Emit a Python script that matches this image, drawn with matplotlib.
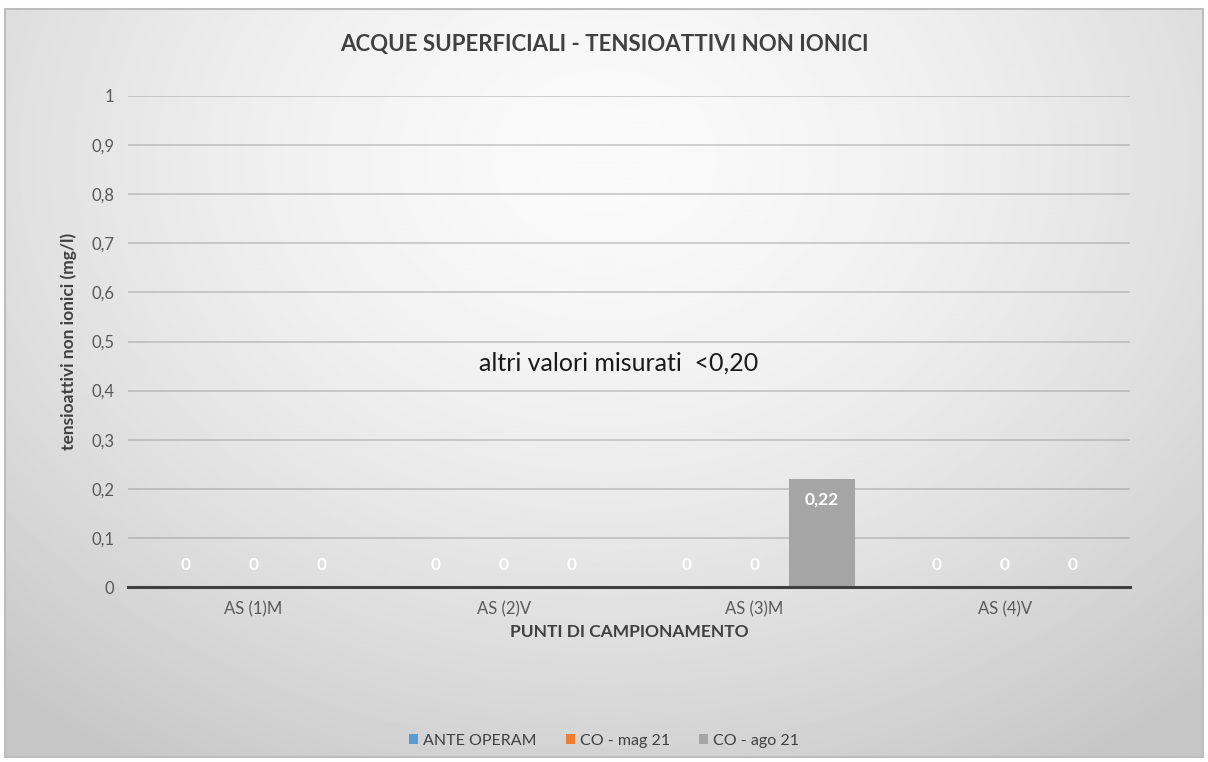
import numpy as np
import matplotlib.pyplot as plt
from matplotlib.ticker import FuncFormatter

# dati
punti = ['AS (1)M', 'AS (2)V', 'AS (3)M', 'AS (4)V']
serie = ['ANTE OPERAM', 'CO - mag 21', 'CO - ago 21']
ante_operam = [0, 0, 0, 0]
co_mag21 = [0, 0, 0, 0]
co_ago21 = [0, 0, 0.22, 0]
colori = ['#5B9BD5', '#ED7D31', '#A5A5A5']

plt.rcParams['font.family'] = ['Lato', 'DejaVu Sans']

fig = plt.figure(figsize=(12.08, 7.62), dpi=100)

# sfondo con gradiente radiale
bg = fig.add_axes([0.004, 0.006, 0.992, 0.982])
yy, xx = np.mgrid[0:1:300j, 0:1:600j]
r = np.sqrt(((xx - 0.5) / 0.75) ** 2 + ((yy - 0.2) / 0.95) ** 2)
r = np.clip(r, 0, 1)
bg.imshow(0.98 - 0.2 * r ** 1.6, cmap='gray', vmin=0, vmax=1,
          aspect='auto', extent=[0, 1, 1, 0])
bg.set_axis_off()
fig.patches.append(plt.Rectangle((0.004, 0.006), 0.992, 0.982,
                                 transform=fig.transFigure, fill=False,
                                 edgecolor='#bdbdbd', lw=1.5))

ax = fig.add_axes([128 / 1208, 1 - 587 / 762, (1130 - 128) / 1208, (587 - 96) / 762])
ax.patch.set_alpha(0)

x = np.arange(len(punti))
step = 0.271
largh = 0.264
for i, (nome, valori) in enumerate(zip(serie, [ante_operam, co_mag21, co_ago21])):
    pos = x + (i - 1) * step
    ax.bar(pos, valori, width=largh, color=colori[i], label=nome, zorder=3)
    for p, v in zip(pos, valori):
        testo = ('%g' % v).replace('.', ',')
        if v > 0.09:
            ax.annotate(testo, (p, v), xytext=(0, -15), textcoords='offset points',
                        ha='center', va='center', color='white', fontsize=12.5,
                        fontweight='bold', zorder=4)
        else:
            ax.annotate(testo, (p, v), xytext=(0, 16), textcoords='offset points',
                        ha='center', va='center', color='white', fontsize=12.5,
                        fontweight='bold', zorder=4)

ax.set_xlim(-0.5, len(punti) - 0.5)
ax.set_ylim(0, 1)
ax.set_yticks(np.arange(0, 1.01, 0.1))
ax.yaxis.set_major_formatter(FuncFormatter(lambda v, p: ('%g' % round(v, 1)).replace('.', ',')))
ax.set_xticks(x)
ax.set_xticklabels(punti)
ax.tick_params(length=0, labelsize=12, labelcolor='#595959', pad=10)
ax.grid(axis='y', color='#8c8c8c', alpha=0.45, lw=1.2, zorder=0)
for s in ['top', 'right', 'left']:
    ax.spines[s].set_visible(False)
ax.spines['bottom'].set_color('#404040')
ax.spines['bottom'].set_linewidth(2.2)
ax.spines['bottom'].set_zorder(5)

ax.set_xlabel('PUNTI DI CAMPIONAMENTO', fontsize=12.5, fontweight='bold',
              color='#404040', labelpad=5)
ax.set_ylabel('tensioattivi non ionici (mg/l)', fontsize=12.5, fontweight='bold',
              color='#404040', labelpad=10)

ax.text(0.49, 0.456, 'altri valori misurati  <0,20', transform=ax.transAxes,
        ha='center', va='center', fontsize=18, color='#1a1a1a')

fig.text(0.5, 1 - 45 / 762, 'ACQUE SUPERFICIALI - TENSIOATTIVI NON IONICI',
         ha='center', va='center', fontsize=16, fontweight='bold', color='#404040')

fig.legend(loc='center', bbox_to_anchor=(0.5, 1 - 741 / 762), ncol=3, frameon=False,
           fontsize=11.5, handlelength=0.6, handleheight=0.6, handletextpad=0.3,
           columnspacing=1.8, labelcolor='#404040')

fig.savefig('out.png', dpi=100)
